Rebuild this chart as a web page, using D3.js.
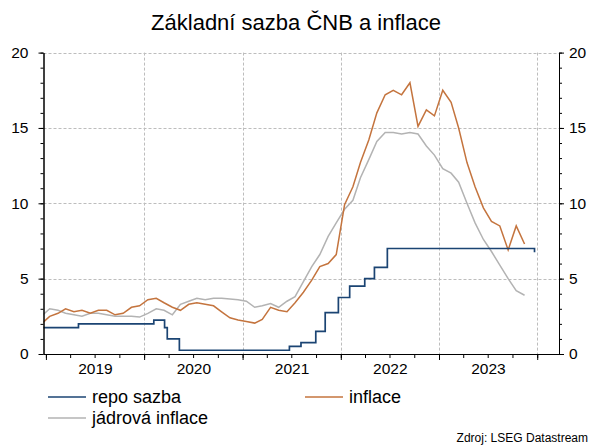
<!DOCTYPE html>
<html><head><meta charset="utf-8">
<script src="https://cdn.jsdelivr.net/npm/d3@7"></script>
<style>body{margin:0;background:#fff}svg{display:block}text{font-family:"Liberation Sans",Arial,sans-serif}</style>
</head><body>
<svg id="c" width="590" height="445"></svg>
<script>
// ---- data ----
const title = "Základní sazba ČNB a inflace";
const source = "Zdroj: LSEG Datastream";
const seriesNames = ["repo sazba", "inflace", "jádrová inflace"];
// monthly series, first month Dec 2018, last Nov 2023
const firstMonth = [2018, 11];
const inflace = [2.0,
  2.5,2.7,3.0,2.8,2.9,2.7,2.9,2.9,2.6,2.7,3.1,3.2,
  3.6,3.7,3.4,3.1,2.9,3.3,3.4,3.3,3.2,2.8,2.4,2.25,
  2.15,2.05,2.3,3.1,2.9,2.8,3.4,4.1,4.9,5.8,6.0,6.6,
  9.9,11.1,12.7,14.2,16.0,17.2,17.5,17.2,18.0,15.1,16.2,15.8,
  17.5,16.7,15.0,12.7,11.1,9.7,8.8,8.5,6.9,8.5,7.3];
const jadrova = [2.5,
  3.0,2.9,2.7,2.6,2.5,2.7,2.7,2.6,2.5,2.5,2.5,2.45,
  2.7,3.0,2.9,2.6,3.3,3.5,3.7,3.6,3.7,3.7,3.65,3.6,
  3.5,3.1,3.2,3.35,3.1,3.5,3.8,4.8,5.8,6.6,7.8,8.7,
  9.6,10.2,11.7,12.9,14.1,14.7,14.7,14.6,14.7,14.6,13.8,13.2,
  12.3,12.0,11.4,10.0,8.7,7.6,6.8,5.9,5.0,4.2,3.9];
// repo rate changes (step series)
const repoDates = ["2018-12-20","2019-05-02","2020-02-06","2020-03-17","2020-03-27","2020-05-11",
  "2021-06-24","2021-08-06","2021-09-30","2021-11-04","2021-12-23","2022-02-03","2022-03-31",
  "2022-05-06","2022-06-23","2023-12-22"];
const repoValues = [1.75,2.00,2.25,1.75,1.00,0.25,0.50,0.75,1.50,2.75,3.75,4.50,5.00,5.75,7.00,6.75];
const yTicks = [0,5,10,15,20];
const yearLabels = [2019,2020,2021,2022,2023];

// ---- chart ----
const svg = d3.select("#c");
const L = 43.5, R = 559, T = 52.6, B = 354;
const x = d3.scaleTime().domain([new Date(2018,11,23), new Date(2024,2,22)]).range([L, R]);
const y = d3.scaleLinear().domain([0,20]).range([B, T]);
const parse = d3.timeParse("%Y-%m-%d");
const monthDate = i => d3.timeDay.offset(new Date(firstMonth[0], firstMonth[1] + i, 1), 14);

const colors = {repo:"#1b4473", inf:"#c4743e", core:"#b3b3b3"};

// grid
const grid = svg.append("g").attr("stroke","#bdbdbd").attr("stroke-dasharray","3,2").attr("stroke-width",1);
yTicks.filter(v=>v>0).forEach(v=>{
  grid.append("line").attr("x1",L).attr("x2",R).attr("y1",Math.round(y(v))+0.5).attr("y2",Math.round(y(v))+0.5);
});
d3.range(2020,2025).forEach(yr=>{
  const xx = Math.round(x(new Date(yr,0,1)))+0.5;
  grid.append("line").attr("x1",xx).attr("x2",xx).attr("y1",T).attr("y2",B);
});

// clip
svg.append("clipPath").attr("id","clip").append("rect").attr("x",L).attr("y",0).attr("width",R-L).attr("height",B+1);
const plot = svg.append("g").attr("clip-path","url(#clip)");

const line = d3.line().x(d=>x(d[0])).y(d=>y(d[1]));
const infData = inflace.map((v,i)=>[monthDate(i), v]);
const coreData = jadrova.map((v,i)=>[monthDate(i), v]);
const repoData = repoDates.map((d,i)=>[parse(d), repoValues[i]]);

plot.append("path").datum(coreData).attr("d",line).attr("fill","none").attr("stroke",colors.core).attr("stroke-width",1.5);
plot.append("path").datum(infData).attr("d",line).attr("fill","none").attr("stroke",colors.inf).attr("stroke-width",1.5);
plot.append("path").datum(repoData).attr("d",line.curve(d3.curveStepAfter)).attr("fill","none").attr("stroke",colors.repo).attr("stroke-width",1.7);

// axes
function styleAxis(g){ g.select(".domain").attr("stroke","#000"); g.selectAll(".tick line").attr("stroke","#000"); g.selectAll("text").attr("font-size","15.5px").attr("fill","#000"); }
svg.append("g").attr("transform",`translate(${L},0)`).call(d3.axisLeft(y).tickValues(d3.range(0,21)).tickSize(3).tickFormat("").tickSizeOuter(0)).call(styleAxis);
svg.append("g").attr("transform",`translate(${L},0)`).call(d3.axisLeft(y).tickValues(yTicks).tickSize(5).tickPadding(10).tickSizeOuter(0)).call(styleAxis);
svg.append("g").attr("transform",`translate(${R},0)`).call(d3.axisRight(y).tickValues(d3.range(0,21)).tickSize(3).tickFormat("").tickSizeOuter(0)).call(styleAxis);
svg.append("g").attr("transform",`translate(${R},0)`).call(d3.axisRight(y).tickValues(yTicks).tickSize(5).tickPadding(5).tickSizeOuter(0)).call(styleAxis);

const quarters = d3.timeMonth.every(3).range(new Date(2019,0,1), new Date(2024,2,22));
svg.append("g").attr("transform",`translate(0,${B})`).call(d3.axisBottom(x).tickValues(quarters).tickSize(4).tickFormat("").tickSizeOuter(0)).call(styleAxis);
svg.append("g").attr("transform",`translate(0,${B})`).call(d3.axisBottom(x).tickValues(d3.range(2019,2025).map(yr=>new Date(yr,0,1))).tickSize(6).tickFormat("").tickSizeOuter(0)).call(g=>g.select(".domain").remove()).call(styleAxis);
svg.append("g").attr("transform",`translate(0,${B})`).call(d3.axisBottom(x).tickValues(yearLabels.map(yr=>new Date(yr,6,2))).tickSize(0).tickPadding(9).tickFormat(d3.timeFormat("%Y"))).call(g=>g.select(".domain").remove()).call(styleAxis);

// title
svg.append("text").attr("x",296).attr("y",30).attr("text-anchor","middle").attr("font-size","22px").attr("fill","#000").text(title);

// legend
const leg = [
  {name:seriesNames[0], c:colors.repo, x:48, y:397},
  {name:seriesNames[1], c:colors.inf, x:305, y:397},
  {name:seriesNames[2], c:colors.core, x:48, y:418}
];
leg.forEach(d=>{
  svg.append("line").attr("x1",d.x).attr("x2",d.x+38).attr("y1",d.y).attr("y2",d.y).attr("stroke",d.c).attr("stroke-width",1.5);
  svg.append("text").attr("x",d.x+44).attr("y",d.y+6).attr("font-size","18px").attr("fill","#000").text(d.name);
});
svg.append("text").attr("x",588).attr("y",442).attr("text-anchor","end").attr("font-size","12px").attr("fill","#000").text(source);
</script>
</body></html>
